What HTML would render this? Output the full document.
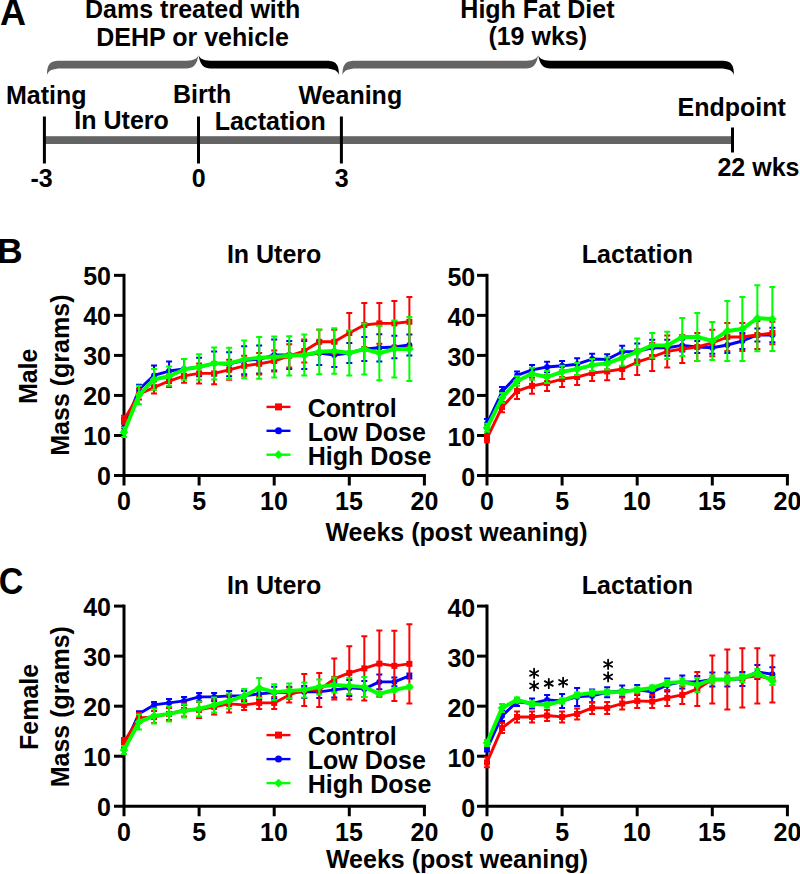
<!DOCTYPE html>
<html><head><meta charset="utf-8"><title>Figure</title>
<style>
html,body{margin:0;padding:0;background:#fff;}
body{width:800px;height:874px;overflow:hidden;}
svg{display:block;font-family:"Liberation Sans", sans-serif;}
</style></head>
<body>
<svg width="800" height="874" viewBox="0 0 800 874">
<rect width="800" height="874" fill="#fff"/>
<text x="0.1" y="24.75" font-size="36" text-anchor="start" font-weight="bold">A</text>
<text x="85.05" y="17.60" font-size="25" text-anchor="start" font-weight="bold">Dams treated with</text>
<text x="96.30" y="45.75" font-size="25" text-anchor="start" font-weight="bold">DEHP or vehicle</text>
<text x="460.35" y="17.60" font-size="25" text-anchor="start" font-weight="bold">High Fat Diet</text>
<text x="488.39" y="45.40" font-size="25" text-anchor="start" font-weight="bold">(19 wks)</text>
<path d="M47 75.2 C47 62.8 51 60.8 61 60.8 H186.5 C194.5 60.8 198.5 57.8 198.5 53.8 C197.5 65.5 192.5 68.5 186.5 68.5 H61 C53 68.5 48 70.5 47 75.2Z" fill="#646464"/>
<path d="M339 75.2 C339 62.8 335 60.8 325 60.8 H210.5 C202.5 60.8 198.5 57.8 198.5 53.8 C199.5 65.5 204.5 68.5 210.5 68.5 H325 C333 68.5 338 70.5 339 75.2Z" fill="#000"/>
<path d="M342.5 75.2 C342.5 62.8 346.5 60.8 356.5 60.8 H526.2 C534.2 60.8 538.2 57.8 538.2 53.8 C537.2 65.5 532.2 68.5 526.2 68.5 H356.5 C348.5 68.5 343.5 70.5 342.5 75.2Z" fill="#646464"/>
<path d="M734 75.2 C734 62.8 730 60.8 720 60.8 H550.2 C542.2 60.8 538.2 57.8 538.2 53.8 C539.2 65.5 544.2 68.5 550.2 68.5 H720 C728 68.5 733 70.5 734 75.2Z" fill="#000"/>
<text x="5.97" y="103.50" font-size="25" text-anchor="start" font-weight="bold">Mating</text>
<text x="172.95" y="103.40" font-size="25" text-anchor="start" font-weight="bold">Birth</text>
<text x="298.44" y="103.50" font-size="25" text-anchor="start" font-weight="bold">Weaning</text>
<text x="74.36" y="129.40" font-size="25" text-anchor="start" font-weight="bold">In Utero</text>
<text x="214.64" y="129.50" font-size="25" text-anchor="start" font-weight="bold">Lactation</text>
<text x="677.46" y="116.40" font-size="25" text-anchor="start" font-weight="bold">Endpoint</text>
<rect x="44" y="136.2" width="689" height="7.8" fill="#646464"/>
<g stroke="#000" stroke-width="3">
<path d="M44.4 116.5V163.5"/>
<path d="M198.5 116.5V163.5"/>
<path d="M341.4 116.5V163.5"/>
<path d="M732.5 127.5V152.5"/>
</g>
<text x="30.44" y="186.60" font-size="25" text-anchor="start" font-weight="bold">-3</text>
<text x="191.86" y="186.70" font-size="25" text-anchor="start" font-weight="bold">0</text>
<text x="334.82" y="186.70" font-size="25" text-anchor="start" font-weight="bold">3</text>
<text x="717.46" y="176.10" font-size="25" text-anchor="start" font-weight="bold">22 wks</text>
<text x="-3.1" y="263.25" font-size="35.5" text-anchor="start" font-weight="bold">B</text>
<g stroke="#000" stroke-width="3" fill="none" stroke-linecap="butt">
<path d="M124 273.85V485.5"/>
<path d="M114 475.5H425.90"/>
<path d="M114 435.47H124"/>
<path d="M114 395.44H124"/>
<path d="M114 355.41H124"/>
<path d="M114 315.38H124"/>
<path d="M114 275.35H124"/>
<path d="M199.10 475.5V485.5"/>
<path d="M274.20 475.5V485.5"/>
<path d="M349.30 475.5V485.5"/>
<path d="M424.40 475.5V485.5"/>
</g>
<text x="111.00" y="485.40" font-size="25" text-anchor="end" font-weight="bold">0</text>
<text x="111.00" y="445.37" font-size="25" text-anchor="end" font-weight="bold">10</text>
<text x="111.00" y="405.34" font-size="25" text-anchor="end" font-weight="bold">20</text>
<text x="111.00" y="365.31" font-size="25" text-anchor="end" font-weight="bold">30</text>
<text x="111.00" y="325.28" font-size="25" text-anchor="end" font-weight="bold">40</text>
<text x="111.00" y="285.25" font-size="25" text-anchor="end" font-weight="bold">50</text>
<text x="117.06" y="509.75" font-size="25" text-anchor="start" font-weight="bold">0</text>
<text x="192.13" y="509.75" font-size="25" text-anchor="start" font-weight="bold">5</text>
<text x="260.04" y="509.75" font-size="25" text-anchor="start" font-weight="bold">10</text>
<text x="334.99" y="509.75" font-size="25" text-anchor="start" font-weight="bold">15</text>
<text x="410.59" y="509.75" font-size="25" text-anchor="start" font-weight="bold">20</text>
<text x="226.91" y="262.80" font-size="25" text-anchor="start" font-weight="bold">In Utero</text>
<path d="M124.00 423.46V431.47M121.00 423.46H127.00M121.00 431.47H127.00M139.02 384.63V394.24M136.02 384.63H142.02M136.02 394.24H142.02M154.04 365.42V385.43M151.04 365.42H157.04M151.04 385.43H157.04M169.06 361.41V380.63M166.06 361.41H172.06M166.06 380.63H172.06M184.08 359.01V379.03M181.08 359.01H187.08M181.08 379.03H187.08M199.10 357.81V376.23M196.10 357.81H202.10M196.10 376.23H202.10M214.12 351.41V375.43M211.12 351.41H217.12M211.12 375.43H217.12M229.14 352.21V376.23M226.14 352.21H232.14M226.14 376.23H232.14M244.16 346.20V374.22M241.16 346.20H247.16M241.16 374.22H247.16M259.18 345.40V373.42M256.18 345.40H262.18M256.18 373.42H262.18M274.20 339.40V370.62M271.20 339.40H277.20M271.20 370.62H277.20M289.22 341.00V369.02M286.22 341.00H292.22M286.22 369.02H292.22M304.24 341.00V369.02M301.24 341.00H307.24M301.24 369.02H307.24M319.26 341.00V365.02M316.26 341.00H322.26M316.26 365.02H322.26M334.28 343.00V367.02M331.28 343.00H337.28M331.28 367.02H337.28M349.30 343.00V363.02M346.30 343.00H352.30M346.30 363.02H352.30M364.32 337.00V361.01M361.32 337.00H367.32M361.32 361.01H367.32M379.34 334.19V361.41M376.34 334.19H382.34M376.34 361.41H382.34M394.36 335.80V358.21M391.36 335.80H397.36M391.36 358.21H397.36M409.38 334.59V355.41M406.38 334.59H412.38M406.38 355.41H412.38" stroke="#0000ff" stroke-width="2.0" fill="none"/>
<polyline points="124.00,427.46 139.02,389.44 154.04,375.43 169.06,371.02 184.08,369.02 199.10,367.02 214.12,363.42 229.14,364.22 244.16,360.21 259.18,359.41 274.20,355.01 289.22,355.01 304.24,355.01 319.26,353.01 334.28,355.01 349.30,353.01 364.32,349.01 379.34,347.80 394.36,347.00 409.38,345.00" stroke="#0000ff" stroke-width="2.9" fill="none" stroke-linejoin="round"/>
<circle cx="124.00" cy="427.46" r="3.0" fill="#0000ff"/>
<circle cx="139.02" cy="389.44" r="3.0" fill="#0000ff"/>
<circle cx="154.04" cy="375.43" r="3.0" fill="#0000ff"/>
<circle cx="169.06" cy="371.02" r="3.0" fill="#0000ff"/>
<circle cx="184.08" cy="369.02" r="3.0" fill="#0000ff"/>
<circle cx="199.10" cy="367.02" r="3.0" fill="#0000ff"/>
<circle cx="214.12" cy="363.42" r="3.0" fill="#0000ff"/>
<circle cx="229.14" cy="364.22" r="3.0" fill="#0000ff"/>
<circle cx="244.16" cy="360.21" r="3.0" fill="#0000ff"/>
<circle cx="259.18" cy="359.41" r="3.0" fill="#0000ff"/>
<circle cx="274.20" cy="355.01" r="3.0" fill="#0000ff"/>
<circle cx="289.22" cy="355.01" r="3.0" fill="#0000ff"/>
<circle cx="304.24" cy="355.01" r="3.0" fill="#0000ff"/>
<circle cx="319.26" cy="353.01" r="3.0" fill="#0000ff"/>
<circle cx="334.28" cy="355.01" r="3.0" fill="#0000ff"/>
<circle cx="349.30" cy="353.01" r="3.0" fill="#0000ff"/>
<circle cx="364.32" cy="349.01" r="3.0" fill="#0000ff"/>
<circle cx="379.34" cy="347.80" r="3.0" fill="#0000ff"/>
<circle cx="394.36" cy="347.00" r="3.0" fill="#0000ff"/>
<circle cx="409.38" cy="345.00" r="3.0" fill="#0000ff"/>
<path d="M124.00 415.86V423.86M121.00 415.86H127.00M121.00 423.86H127.00M139.02 389.04V399.44M136.02 389.04H142.02M136.02 399.44H142.02M154.04 381.43V393.44M151.04 381.43H157.04M151.04 393.44H157.04M169.06 375.02V387.03M166.06 375.02H172.06M166.06 387.03H172.06M184.08 369.02V382.63M181.08 369.02H187.08M181.08 382.63H187.08M199.10 363.42V383.43M196.10 363.42H202.10M196.10 383.43H202.10M214.12 362.62V384.23M211.12 362.62H217.12M211.12 384.23H217.12M229.14 359.81V379.83M226.14 359.81H232.14M226.14 379.83H232.14M244.16 355.81V375.83M241.16 355.81H247.16M241.16 375.83H247.16M259.18 353.01V374.62M256.18 353.01H262.18M256.18 374.62H262.18M274.20 350.61V371.42M271.20 350.61H277.20M271.20 371.42H277.20M289.22 344.20V367.42M286.22 344.20H292.22M286.22 367.42H292.22M304.24 339.40V362.62M301.24 339.40H307.24M301.24 362.62H307.24M319.26 329.79V353.81M316.26 329.79H322.26M316.26 353.81H322.26M334.28 329.79V353.81M331.28 329.79H337.28M331.28 353.81H337.28M349.30 312.98V353.01M346.30 312.98H352.30M346.30 353.01H352.30M364.32 302.97V347.00M361.32 302.97H367.32M361.32 347.00H367.32M379.34 302.97V343.80M376.34 302.97H382.34M376.34 343.80H382.34M394.36 300.97V345.80M391.36 300.97H397.36M391.36 345.80H397.36M409.38 296.97V346.60M406.38 296.97H412.38M406.38 346.60H412.38" stroke="#ff0000" stroke-width="2.0" fill="none"/>
<polyline points="124.00,419.86 139.02,394.24 154.04,387.43 169.06,381.03 184.08,375.83 199.10,373.42 214.12,373.42 229.14,369.82 244.16,365.82 259.18,363.82 274.20,361.01 289.22,355.81 304.24,351.01 319.26,341.80 334.28,341.80 349.30,332.99 364.32,324.99 379.34,323.39 394.36,323.39 409.38,321.78" stroke="#ff0000" stroke-width="2.9" fill="none" stroke-linejoin="round"/>
<rect x="121.00" y="416.86" width="6.0" height="6.0" fill="#ff0000"/>
<rect x="136.02" y="391.24" width="6.0" height="6.0" fill="#ff0000"/>
<rect x="151.04" y="384.43" width="6.0" height="6.0" fill="#ff0000"/>
<rect x="166.06" y="378.03" width="6.0" height="6.0" fill="#ff0000"/>
<rect x="181.08" y="372.83" width="6.0" height="6.0" fill="#ff0000"/>
<rect x="196.10" y="370.42" width="6.0" height="6.0" fill="#ff0000"/>
<rect x="211.12" y="370.42" width="6.0" height="6.0" fill="#ff0000"/>
<rect x="226.14" y="366.82" width="6.0" height="6.0" fill="#ff0000"/>
<rect x="241.16" y="362.82" width="6.0" height="6.0" fill="#ff0000"/>
<rect x="256.18" y="360.82" width="6.0" height="6.0" fill="#ff0000"/>
<rect x="271.20" y="358.01" width="6.0" height="6.0" fill="#ff0000"/>
<rect x="286.22" y="352.81" width="6.0" height="6.0" fill="#ff0000"/>
<rect x="301.24" y="348.01" width="6.0" height="6.0" fill="#ff0000"/>
<rect x="316.26" y="338.80" width="6.0" height="6.0" fill="#ff0000"/>
<rect x="331.28" y="338.80" width="6.0" height="6.0" fill="#ff0000"/>
<rect x="346.30" y="329.99" width="6.0" height="6.0" fill="#ff0000"/>
<rect x="361.32" y="321.99" width="6.0" height="6.0" fill="#ff0000"/>
<rect x="376.34" y="320.39" width="6.0" height="6.0" fill="#ff0000"/>
<rect x="391.36" y="320.39" width="6.0" height="6.0" fill="#ff0000"/>
<rect x="406.38" y="318.78" width="6.0" height="6.0" fill="#ff0000"/>
<path d="M124.00 427.46V437.07M121.00 427.46H127.00M121.00 437.07H127.00M139.02 385.83V404.25M136.02 385.83H142.02M136.02 404.25H142.02M154.04 369.02V389.84M151.04 369.02H157.04M151.04 389.84H157.04M169.06 366.62V385.83M166.06 366.62H172.06M166.06 385.83H172.06M184.08 359.01V379.83M181.08 359.01H187.08M181.08 379.83H187.08M199.10 354.21V379.83M196.10 354.21H202.10M196.10 379.83H202.10M214.12 347.40V379.43M211.12 347.40H217.12M211.12 379.43H217.12M229.14 347.80V379.03M226.14 347.80H232.14M226.14 379.03H232.14M244.16 340.60V378.23M241.16 340.60H247.16M241.16 378.23H247.16M259.18 337.00V378.63M256.18 337.00H262.18M256.18 378.63H262.18M274.20 336.60V377.43M271.20 336.60H277.20M271.20 377.43H277.20M289.22 336.20V375.43M286.22 336.20H292.22M286.22 375.43H292.22M304.24 334.59V375.43M301.24 334.59H307.24M301.24 375.43H307.24M319.26 329.39V374.22M316.26 329.39H322.26M316.26 374.22H322.26M334.28 328.19V373.82M331.28 328.19H337.28M331.28 373.82H337.28M349.30 330.59V375.43M346.30 330.59H352.30M346.30 375.43H352.30M364.32 323.39V374.62M361.32 323.39H367.32M361.32 374.62H367.32M379.34 325.79V380.23M376.34 325.79H382.34M376.34 380.23H382.34M394.36 320.58V377.43M391.36 320.58H397.36M391.36 377.43H397.36M409.38 316.98V381.03M406.38 316.98H412.38M406.38 381.03H412.38" stroke="#00ff00" stroke-width="2.0" fill="none"/>
<polyline points="124.00,432.27 139.02,395.04 154.04,379.43 169.06,376.23 184.08,369.42 199.10,367.02 214.12,363.42 229.14,363.42 244.16,359.41 259.18,357.81 274.20,357.01 289.22,355.81 304.24,355.01 319.26,351.81 334.28,351.01 349.30,353.01 364.32,349.01 379.34,353.01 394.36,349.01 409.38,349.01" stroke="#00ff00" stroke-width="3.9" fill="none" stroke-linejoin="round"/>
<path d="M124.00 427.89L128.38 432.27L124.00 436.64L119.62 432.27Z" fill="#00ff00"/>
<path d="M139.02 390.66L143.40 395.04L139.02 399.41L134.65 395.04Z" fill="#00ff00"/>
<path d="M154.04 375.05L158.41 379.43L154.04 383.80L149.66 379.43Z" fill="#00ff00"/>
<path d="M169.06 371.85L173.44 376.23L169.06 380.60L164.69 376.23Z" fill="#00ff00"/>
<path d="M184.08 365.05L188.45 369.42L184.08 373.80L179.70 369.42Z" fill="#00ff00"/>
<path d="M199.10 362.64L203.47 367.02L199.10 371.39L194.72 367.02Z" fill="#00ff00"/>
<path d="M214.12 359.04L218.50 363.42L214.12 367.79L209.75 363.42Z" fill="#00ff00"/>
<path d="M229.14 359.04L233.51 363.42L229.14 367.79L224.76 363.42Z" fill="#00ff00"/>
<path d="M244.16 355.04L248.53 359.41L244.16 363.79L239.78 359.41Z" fill="#00ff00"/>
<path d="M259.18 353.44L263.56 357.81L259.18 362.19L254.81 357.81Z" fill="#00ff00"/>
<path d="M274.20 352.64L278.57 357.01L274.20 361.39L269.82 357.01Z" fill="#00ff00"/>
<path d="M289.22 351.44L293.60 355.81L289.22 360.19L284.85 355.81Z" fill="#00ff00"/>
<path d="M304.24 350.63L308.62 355.01L304.24 359.38L299.87 355.01Z" fill="#00ff00"/>
<path d="M319.26 347.43L323.63 351.81L319.26 356.18L314.88 351.81Z" fill="#00ff00"/>
<path d="M334.28 346.63L338.65 351.01L334.28 355.38L329.90 351.01Z" fill="#00ff00"/>
<path d="M349.30 348.63L353.67 353.01L349.30 357.38L344.92 353.01Z" fill="#00ff00"/>
<path d="M364.32 344.63L368.69 349.01L364.32 353.38L359.94 349.01Z" fill="#00ff00"/>
<path d="M379.34 348.63L383.72 353.01L379.34 357.38L374.97 353.01Z" fill="#00ff00"/>
<path d="M394.36 344.63L398.74 349.01L394.36 353.38L389.99 349.01Z" fill="#00ff00"/>
<path d="M409.38 344.63L413.75 349.01L409.38 353.38L405.00 349.01Z" fill="#00ff00"/>
<g stroke="#000" stroke-width="3" fill="none" stroke-linecap="butt">
<path d="M487 273.85V485.5"/>
<path d="M477 475.5H788.90"/>
<path d="M477 435.47H487"/>
<path d="M477 395.44H487"/>
<path d="M477 355.41H487"/>
<path d="M477 315.38H487"/>
<path d="M477 275.35H487"/>
<path d="M562.10 475.5V485.5"/>
<path d="M637.20 475.5V485.5"/>
<path d="M712.30 475.5V485.5"/>
<path d="M787.40 475.5V485.5"/>
</g>
<text x="475.25" y="486.40" font-size="25" text-anchor="end" font-weight="bold">0</text>
<text x="475.25" y="446.37" font-size="25" text-anchor="end" font-weight="bold">10</text>
<text x="475.25" y="406.34" font-size="25" text-anchor="end" font-weight="bold">20</text>
<text x="475.25" y="366.31" font-size="25" text-anchor="end" font-weight="bold">30</text>
<text x="475.25" y="326.28" font-size="25" text-anchor="end" font-weight="bold">40</text>
<text x="475.25" y="286.25" font-size="25" text-anchor="end" font-weight="bold">50</text>
<text x="480.06" y="509.75" font-size="25" text-anchor="start" font-weight="bold">0</text>
<text x="555.13" y="509.75" font-size="25" text-anchor="start" font-weight="bold">5</text>
<text x="623.04" y="509.75" font-size="25" text-anchor="start" font-weight="bold">10</text>
<text x="697.99" y="509.75" font-size="25" text-anchor="start" font-weight="bold">15</text>
<text x="773.59" y="509.75" font-size="25" text-anchor="start" font-weight="bold">20</text>
<text x="581.84" y="262.70" font-size="25" text-anchor="start" font-weight="bold">Lactation</text>
<path d="M487.00 419.06V428.66M484.00 419.06H490.00M484.00 428.66H490.00M502.02 387.03V396.64M499.02 387.03H505.02M499.02 396.64H505.02M517.04 371.42V379.43M514.04 371.42H520.04M514.04 379.43H520.04M532.06 365.02V374.62M529.06 365.02H535.06M529.06 374.62H535.06M547.08 361.81V372.22M544.08 361.81H550.08M544.08 372.22H550.08M562.10 361.01V370.62M559.10 361.01H565.10M559.10 370.62H565.10M577.12 358.21V370.22M574.12 358.21H580.12M574.12 370.22H580.12M592.14 353.81V364.22M589.14 353.81H595.14M589.14 364.22H595.14M607.16 354.21V364.62M604.16 354.21H610.16M604.16 364.62H610.16M622.18 345.80V357.81M619.18 345.80H625.18M619.18 357.81H625.18M637.20 343.40V359.41M634.20 343.40H640.20M634.20 359.41H640.20M652.22 339.80V355.81M649.22 339.80H655.22M649.22 355.81H655.22M667.24 339.80V355.81M664.24 339.80H670.24M664.24 355.81H670.24M682.26 339.40V351.41M679.26 339.40H685.26M679.26 351.41H685.26M697.28 341.00V353.01M694.28 341.00H700.28M694.28 353.01H700.28M712.30 341.80V353.81M709.30 341.80H715.30M709.30 353.81H715.30M727.32 337.00V353.01M724.32 337.00H730.32M724.32 353.01H730.32M742.34 332.99V349.01M739.34 332.99H745.34M739.34 349.01H745.34M757.36 328.59V341.40M754.36 328.59H760.36M754.36 341.40H760.36M772.38 327.79V342.20M769.38 327.79H775.38M769.38 342.20H775.38" stroke="#0000ff" stroke-width="2.0" fill="none"/>
<polyline points="487.00,423.86 502.02,391.84 517.04,375.43 532.06,369.82 547.08,367.02 562.10,365.82 577.12,364.22 592.14,359.01 607.16,359.41 622.18,351.81 637.20,351.41 652.22,347.80 667.24,347.80 682.26,345.40 697.28,347.00 712.30,347.80 727.32,345.00 742.34,341.00 757.36,334.99 772.38,334.99" stroke="#0000ff" stroke-width="2.9" fill="none" stroke-linejoin="round"/>
<circle cx="487.00" cy="423.86" r="3.0" fill="#0000ff"/>
<circle cx="502.02" cy="391.84" r="3.0" fill="#0000ff"/>
<circle cx="517.04" cy="375.43" r="3.0" fill="#0000ff"/>
<circle cx="532.06" cy="369.82" r="3.0" fill="#0000ff"/>
<circle cx="547.08" cy="367.02" r="3.0" fill="#0000ff"/>
<circle cx="562.10" cy="365.82" r="3.0" fill="#0000ff"/>
<circle cx="577.12" cy="364.22" r="3.0" fill="#0000ff"/>
<circle cx="592.14" cy="359.01" r="3.0" fill="#0000ff"/>
<circle cx="607.16" cy="359.41" r="3.0" fill="#0000ff"/>
<circle cx="622.18" cy="351.81" r="3.0" fill="#0000ff"/>
<circle cx="637.20" cy="351.41" r="3.0" fill="#0000ff"/>
<circle cx="652.22" cy="347.80" r="3.0" fill="#0000ff"/>
<circle cx="667.24" cy="347.80" r="3.0" fill="#0000ff"/>
<circle cx="682.26" cy="345.40" r="3.0" fill="#0000ff"/>
<circle cx="697.28" cy="347.00" r="3.0" fill="#0000ff"/>
<circle cx="712.30" cy="347.80" r="3.0" fill="#0000ff"/>
<circle cx="727.32" cy="345.00" r="3.0" fill="#0000ff"/>
<circle cx="742.34" cy="341.00" r="3.0" fill="#0000ff"/>
<circle cx="757.36" cy="334.99" r="3.0" fill="#0000ff"/>
<circle cx="772.38" cy="334.99" r="3.0" fill="#0000ff"/>
<path d="M487.00 434.27V442.28M484.00 434.27H490.00M484.00 442.28H490.00M502.02 401.84V412.25M499.02 401.84H505.02M499.02 412.25H505.02M517.04 383.03V399.04M514.04 383.03H520.04M514.04 399.04H520.04M532.06 377.83V393.84M529.06 377.83H535.06M529.06 393.84H535.06M547.08 375.02V391.04M544.08 375.02H550.08M544.08 391.04H550.08M562.10 371.02V387.03M559.10 371.02H565.10M559.10 387.03H565.10M577.12 369.02V385.03M574.12 369.02H580.12M574.12 385.03H580.12M592.14 365.02V381.03M589.14 365.02H595.14M589.14 381.03H595.14M607.16 362.62V380.23M604.16 362.62H610.16M604.16 380.23H610.16M622.18 359.01V379.03M619.18 359.01H625.18M619.18 379.03H625.18M637.20 349.41V375.02M634.20 349.41H640.20M634.20 375.02H640.20M652.22 343.00V371.02M649.22 343.00H655.22M649.22 371.02H655.22M667.24 335.39V367.42M664.24 335.39H670.24M664.24 367.42H670.24M682.26 334.99V363.02M679.26 334.99H685.26M679.26 363.02H685.26M697.28 332.99V361.01M694.28 332.99H700.28M694.28 361.01H700.28M712.30 329.79V356.21M709.30 329.79H715.30M709.30 356.21H715.30M727.32 322.99V351.01M724.32 322.99H730.32M724.32 351.01H730.32M742.34 322.99V351.01M739.34 322.99H745.34M739.34 351.01H745.34M757.36 320.98V349.01M754.36 320.98H760.36M754.36 349.01H760.36M772.38 321.78V344.20M769.38 321.78H775.38M769.38 344.20H775.38" stroke="#ff0000" stroke-width="2.0" fill="none"/>
<polyline points="487.00,438.27 502.02,407.05 517.04,391.04 532.06,385.83 547.08,383.03 562.10,379.03 577.12,377.03 592.14,373.02 607.16,371.42 622.18,369.02 637.20,362.22 652.22,357.01 667.24,351.41 682.26,349.01 697.28,347.00 712.30,343.00 727.32,337.00 742.34,337.00 757.36,334.99 772.38,332.99" stroke="#ff0000" stroke-width="2.9" fill="none" stroke-linejoin="round"/>
<rect x="484.00" y="435.27" width="6.0" height="6.0" fill="#ff0000"/>
<rect x="499.02" y="404.05" width="6.0" height="6.0" fill="#ff0000"/>
<rect x="514.04" y="388.04" width="6.0" height="6.0" fill="#ff0000"/>
<rect x="529.06" y="382.83" width="6.0" height="6.0" fill="#ff0000"/>
<rect x="544.08" y="380.03" width="6.0" height="6.0" fill="#ff0000"/>
<rect x="559.10" y="376.03" width="6.0" height="6.0" fill="#ff0000"/>
<rect x="574.12" y="374.03" width="6.0" height="6.0" fill="#ff0000"/>
<rect x="589.14" y="370.02" width="6.0" height="6.0" fill="#ff0000"/>
<rect x="604.16" y="368.42" width="6.0" height="6.0" fill="#ff0000"/>
<rect x="619.18" y="366.02" width="6.0" height="6.0" fill="#ff0000"/>
<rect x="634.20" y="359.22" width="6.0" height="6.0" fill="#ff0000"/>
<rect x="649.22" y="354.01" width="6.0" height="6.0" fill="#ff0000"/>
<rect x="664.24" y="348.41" width="6.0" height="6.0" fill="#ff0000"/>
<rect x="679.26" y="346.01" width="6.0" height="6.0" fill="#ff0000"/>
<rect x="694.28" y="344.00" width="6.0" height="6.0" fill="#ff0000"/>
<rect x="709.30" y="340.00" width="6.0" height="6.0" fill="#ff0000"/>
<rect x="724.32" y="334.00" width="6.0" height="6.0" fill="#ff0000"/>
<rect x="739.34" y="334.00" width="6.0" height="6.0" fill="#ff0000"/>
<rect x="754.36" y="331.99" width="6.0" height="6.0" fill="#ff0000"/>
<rect x="769.38" y="329.99" width="6.0" height="6.0" fill="#ff0000"/>
<path d="M487.00 423.86V431.87M484.00 423.86H490.00M484.00 431.87H490.00M502.02 393.04V402.65M499.02 393.04H505.02M499.02 402.65H505.02M517.04 376.23V385.83M514.04 376.23H520.04M514.04 385.83H520.04M532.06 367.82V379.83M529.06 367.82H535.06M529.06 379.83H535.06M547.08 371.02V383.03M544.08 371.02H550.08M544.08 383.03H550.08M562.10 365.82V377.83M559.10 365.82H565.10M559.10 377.83H565.10M577.12 363.02V375.02M574.12 363.02H580.12M574.12 375.02H580.12M592.14 359.01V371.02M589.14 359.01H595.14M589.14 371.02H595.14M607.16 357.41V369.42M604.16 357.41H610.16M604.16 369.42H610.16M622.18 349.81V365.82M619.18 349.81H625.18M619.18 365.82H625.18M637.20 338.60V365.02M634.20 338.60H640.20M634.20 365.02H640.20M652.22 332.99V357.81M649.22 332.99H655.22M649.22 357.81H655.22M667.24 331.79V359.01M664.24 331.79H670.24M664.24 359.01H670.24M682.26 317.98V356.01M679.26 317.98H685.26M679.26 356.01H685.26M697.28 312.98V361.01M694.28 312.98H700.28M694.28 361.01H700.28M712.30 321.98V360.01M709.30 321.98H715.30M709.30 360.01H715.30M727.32 300.97V361.01M724.32 300.97H730.32M724.32 361.01H730.32M742.34 296.97V361.01M739.34 296.97H745.34M739.34 361.01H745.34M757.36 285.16V351.21M754.36 285.16H760.36M754.36 351.21H760.36M772.38 286.96V351.01M769.38 286.96H775.38M769.38 351.01H775.38" stroke="#00ff00" stroke-width="2.0" fill="none"/>
<polyline points="487.00,427.86 502.02,397.84 517.04,381.03 532.06,373.82 547.08,377.03 562.10,371.82 577.12,369.02 592.14,365.02 607.16,363.42 622.18,357.81 637.20,351.81 652.22,345.40 667.24,345.40 682.26,337.00 697.28,337.00 712.30,341.00 727.32,330.99 742.34,328.99 757.36,318.18 772.38,318.98" stroke="#00ff00" stroke-width="3.9" fill="none" stroke-linejoin="round"/>
<path d="M487.00 423.49L491.38 427.86L487.00 432.24L482.62 427.86Z" fill="#00ff00"/>
<path d="M502.02 393.47L506.39 397.84L502.02 402.22L497.64 397.84Z" fill="#00ff00"/>
<path d="M517.04 376.65L521.41 381.03L517.04 385.40L512.66 381.03Z" fill="#00ff00"/>
<path d="M532.06 369.45L536.43 373.82L532.06 378.20L527.68 373.82Z" fill="#00ff00"/>
<path d="M547.08 372.65L551.46 377.03L547.08 381.40L542.71 377.03Z" fill="#00ff00"/>
<path d="M562.10 367.45L566.48 371.82L562.10 376.20L557.73 371.82Z" fill="#00ff00"/>
<path d="M577.12 364.65L581.50 369.02L577.12 373.40L572.75 369.02Z" fill="#00ff00"/>
<path d="M592.14 360.64L596.51 365.02L592.14 369.39L587.76 365.02Z" fill="#00ff00"/>
<path d="M607.16 359.04L611.53 363.42L607.16 367.79L602.78 363.42Z" fill="#00ff00"/>
<path d="M622.18 353.44L626.56 357.81L622.18 362.19L617.81 357.81Z" fill="#00ff00"/>
<path d="M637.20 347.43L641.58 351.81L637.20 356.18L632.83 351.81Z" fill="#00ff00"/>
<path d="M652.22 341.03L656.60 345.40L652.22 349.78L647.85 345.40Z" fill="#00ff00"/>
<path d="M667.24 341.03L671.62 345.40L667.24 349.78L662.87 345.40Z" fill="#00ff00"/>
<path d="M682.26 332.62L686.63 337.00L682.26 341.37L677.88 337.00Z" fill="#00ff00"/>
<path d="M697.28 332.62L701.65 337.00L697.28 341.37L692.90 337.00Z" fill="#00ff00"/>
<path d="M712.30 336.62L716.67 341.00L712.30 345.37L707.92 341.00Z" fill="#00ff00"/>
<path d="M727.32 326.62L731.69 330.99L727.32 335.37L722.94 330.99Z" fill="#00ff00"/>
<path d="M742.34 324.62L746.72 328.99L742.34 333.37L737.97 328.99Z" fill="#00ff00"/>
<path d="M757.36 313.81L761.74 318.18L757.36 322.56L752.99 318.18Z" fill="#00ff00"/>
<path d="M772.38 314.61L776.75 318.98L772.38 323.36L768.00 318.98Z" fill="#00ff00"/>
<path d="M266.5 406.90H290.5" stroke="#ff0000" stroke-width="2.4"/>
<rect x="275.00" y="403.40" width="7" height="7" fill="#ff0000"/>
<text x="307.8" y="416.90" font-size="25" text-anchor="start" font-weight="bold">Control</text>
<path d="M266.5 430.80H290.5" stroke="#0000ff" stroke-width="2.4"/>
<circle cx="278.50" cy="430.80" r="3.5" fill="#0000ff"/>
<text x="307.8" y="440.80" font-size="25" text-anchor="start" font-weight="bold">Low Dose</text>
<path d="M266.5 454.70H290.5" stroke="#00ff00" stroke-width="2.4"/>
<path d="M278.50 450.32L282.88 454.70L278.50 459.07L274.12 454.70Z" fill="#00ff00"/>
<text x="307.8" y="464.70" font-size="25" text-anchor="start" font-weight="bold">High Dose</text>
<text x="325.46" y="541.25" font-size="25" text-anchor="start" font-weight="bold">Weeks (post weaning)</text>
<text transform="translate(37.30 404.12) rotate(-90)" font-size="25" font-weight="bold">Male</text>
<text transform="translate(68.60 455.71) rotate(-90)" font-size="25" font-weight="bold">Mass (grams)</text>
<text transform="translate(-1.2 594.1) scale(0.935 1)" font-size="36.5" font-weight="bold">C</text>
<g stroke="#000" stroke-width="3" fill="none" stroke-linecap="butt">
<path d="M124 604.59V816.25"/>
<path d="M114 806.25H425.90"/>
<path d="M114 756.21H124"/>
<path d="M114 706.17H124"/>
<path d="M114 656.13H124"/>
<path d="M114 606.09H124"/>
<path d="M199.10 806.25V816.25"/>
<path d="M274.20 806.25V816.25"/>
<path d="M349.30 806.25V816.25"/>
<path d="M424.40 806.25V816.25"/>
</g>
<text x="111.00" y="816.15" font-size="25" text-anchor="end" font-weight="bold">0</text>
<text x="111.00" y="766.11" font-size="25" text-anchor="end" font-weight="bold">10</text>
<text x="111.00" y="716.07" font-size="25" text-anchor="end" font-weight="bold">20</text>
<text x="111.00" y="666.03" font-size="25" text-anchor="end" font-weight="bold">30</text>
<text x="111.00" y="615.99" font-size="25" text-anchor="end" font-weight="bold">40</text>
<text x="117.06" y="840.50" font-size="25" text-anchor="start" font-weight="bold">0</text>
<text x="192.13" y="840.50" font-size="25" text-anchor="start" font-weight="bold">5</text>
<text x="260.04" y="840.50" font-size="25" text-anchor="start" font-weight="bold">10</text>
<text x="334.99" y="840.50" font-size="25" text-anchor="start" font-weight="bold">15</text>
<text x="410.59" y="840.50" font-size="25" text-anchor="start" font-weight="bold">20</text>
<text x="226.91" y="593.80" font-size="25" text-anchor="start" font-weight="bold">In Utero</text>
<path d="M124.00 743.70V749.70M121.00 743.70H127.00M121.00 749.70H127.00M139.02 711.17V716.18M136.02 711.17H142.02M136.02 716.18H142.02M154.04 701.92V707.92M151.04 701.92H157.04M151.04 707.92H157.04M169.06 698.91V706.92M166.06 698.91H172.06M166.06 706.92H172.06M184.08 696.91V704.92M181.08 696.91H187.08M181.08 704.92H187.08M199.10 692.91V700.92M196.10 692.91H202.10M196.10 700.92H202.10M214.12 692.91V700.92M211.12 692.91H217.12M211.12 700.92H217.12M229.14 690.91V700.92M226.14 690.91H232.14M226.14 700.92H232.14M244.16 690.91V700.92M241.16 690.91H247.16M241.16 700.92H247.16M259.18 688.91V698.91M256.18 688.91H262.18M256.18 698.91H262.18M274.20 686.65V698.66M271.20 686.65H277.20M271.20 698.66H277.20M289.22 686.65V698.66M286.22 686.65H292.22M286.22 698.66H292.22M304.24 685.90V697.91M301.24 685.90H307.24M301.24 697.91H307.24M319.26 685.90V697.91M316.26 685.90H322.26M316.26 697.91H322.26M334.28 682.40V697.41M331.28 682.40H337.28M331.28 697.41H337.28M349.30 679.90V695.91M346.30 679.90H352.30M346.30 695.91H352.30M364.32 680.90V696.91M361.32 680.90H367.32M361.32 696.91H367.32M379.34 674.59V689.21M376.34 674.59H382.34M376.34 689.21H382.34M394.36 677.50V686.30M391.36 677.50H397.36M391.36 686.30H397.36M409.38 673.39V678.40M406.38 673.39H412.38M406.38 678.40H412.38" stroke="#0000ff" stroke-width="2.0" fill="none"/>
<polyline points="124.00,746.70 139.02,713.68 154.04,704.92 169.06,702.92 184.08,700.92 199.10,696.91 214.12,696.91 229.14,695.91 244.16,695.91 259.18,693.91 274.20,692.66 289.22,692.66 304.24,691.91 319.26,691.91 334.28,689.91 349.30,687.91 364.32,688.91 379.34,681.90 394.36,681.90 409.38,675.90" stroke="#0000ff" stroke-width="2.9" fill="none" stroke-linejoin="round"/>
<circle cx="124.00" cy="746.70" r="3.0" fill="#0000ff"/>
<circle cx="139.02" cy="713.68" r="3.0" fill="#0000ff"/>
<circle cx="154.04" cy="704.92" r="3.0" fill="#0000ff"/>
<circle cx="169.06" cy="702.92" r="3.0" fill="#0000ff"/>
<circle cx="184.08" cy="700.92" r="3.0" fill="#0000ff"/>
<circle cx="199.10" cy="696.91" r="3.0" fill="#0000ff"/>
<circle cx="214.12" cy="696.91" r="3.0" fill="#0000ff"/>
<circle cx="229.14" cy="695.91" r="3.0" fill="#0000ff"/>
<circle cx="244.16" cy="695.91" r="3.0" fill="#0000ff"/>
<circle cx="259.18" cy="693.91" r="3.0" fill="#0000ff"/>
<circle cx="274.20" cy="692.66" r="3.0" fill="#0000ff"/>
<circle cx="289.22" cy="692.66" r="3.0" fill="#0000ff"/>
<circle cx="304.24" cy="691.91" r="3.0" fill="#0000ff"/>
<circle cx="319.26" cy="691.91" r="3.0" fill="#0000ff"/>
<circle cx="334.28" cy="689.91" r="3.0" fill="#0000ff"/>
<circle cx="349.30" cy="687.91" r="3.0" fill="#0000ff"/>
<circle cx="364.32" cy="688.91" r="3.0" fill="#0000ff"/>
<circle cx="379.34" cy="681.90" r="3.0" fill="#0000ff"/>
<circle cx="394.36" cy="681.90" r="3.0" fill="#0000ff"/>
<circle cx="409.38" cy="675.90" r="3.0" fill="#0000ff"/>
<path d="M124.00 737.95V745.95M121.00 737.95H127.00M121.00 745.95H127.00M139.02 712.93V722.93M136.02 712.93H142.02M136.02 722.93H142.02M154.04 710.92V722.93M151.04 710.92H157.04M151.04 722.93H157.04M169.06 707.92V719.93M166.06 707.92H172.06M166.06 719.93H172.06M184.08 703.42V716.43M181.08 703.42H187.08M181.08 716.43H187.08M199.10 701.92V717.93M196.10 701.92H202.10M196.10 717.93H202.10M214.12 699.41V714.43M211.12 699.41H217.12M211.12 714.43H217.12M229.14 695.41V712.43M226.14 695.41H232.14M226.14 712.43H232.14M244.16 699.91V709.92M241.16 699.91H247.16M241.16 709.92H247.16M259.18 696.91V708.92M256.18 696.91H262.18M256.18 708.92H262.18M274.20 696.91V708.92M271.20 696.91H277.20M271.20 708.92H277.20M289.22 687.41V702.42M286.22 687.41H292.22M286.22 702.42H292.22M304.24 673.89V705.92M301.24 673.89H307.24M301.24 705.92H307.24M319.26 672.89V706.92M316.26 672.89H322.26M316.26 706.92H322.26M334.28 658.38V699.41M331.28 658.38H337.28M331.28 699.41H337.28M349.30 646.37V699.41M346.30 646.37H352.30M346.30 699.41H352.30M364.32 636.36V700.42M361.32 636.36H367.32M361.32 700.42H367.32M379.34 630.61V696.66M376.34 630.61H382.34M376.34 696.66H382.34M394.36 630.86V700.92M391.36 630.86H397.36M391.36 700.92H397.36M409.38 624.35V703.42M406.38 624.35H412.38M406.38 703.42H412.38" stroke="#ff0000" stroke-width="2.0" fill="none"/>
<polyline points="124.00,741.95 139.02,717.93 154.04,716.93 169.06,713.93 184.08,709.92 199.10,709.92 214.12,706.92 229.14,703.92 244.16,704.92 259.18,702.92 274.20,702.92 289.22,694.91 304.24,689.91 319.26,689.91 334.28,678.90 349.30,672.89 364.32,668.39 379.34,663.64 394.36,665.89 409.38,663.89" stroke="#ff0000" stroke-width="2.9" fill="none" stroke-linejoin="round"/>
<rect x="121.00" y="738.95" width="6.0" height="6.0" fill="#ff0000"/>
<rect x="136.02" y="714.93" width="6.0" height="6.0" fill="#ff0000"/>
<rect x="151.04" y="713.93" width="6.0" height="6.0" fill="#ff0000"/>
<rect x="166.06" y="710.93" width="6.0" height="6.0" fill="#ff0000"/>
<rect x="181.08" y="706.92" width="6.0" height="6.0" fill="#ff0000"/>
<rect x="196.10" y="706.92" width="6.0" height="6.0" fill="#ff0000"/>
<rect x="211.12" y="703.92" width="6.0" height="6.0" fill="#ff0000"/>
<rect x="226.14" y="700.92" width="6.0" height="6.0" fill="#ff0000"/>
<rect x="241.16" y="701.92" width="6.0" height="6.0" fill="#ff0000"/>
<rect x="256.18" y="699.92" width="6.0" height="6.0" fill="#ff0000"/>
<rect x="271.20" y="699.92" width="6.0" height="6.0" fill="#ff0000"/>
<rect x="286.22" y="691.91" width="6.0" height="6.0" fill="#ff0000"/>
<rect x="301.24" y="686.91" width="6.0" height="6.0" fill="#ff0000"/>
<rect x="316.26" y="686.91" width="6.0" height="6.0" fill="#ff0000"/>
<rect x="331.28" y="675.90" width="6.0" height="6.0" fill="#ff0000"/>
<rect x="346.30" y="669.89" width="6.0" height="6.0" fill="#ff0000"/>
<rect x="361.32" y="665.39" width="6.0" height="6.0" fill="#ff0000"/>
<rect x="376.34" y="660.64" width="6.0" height="6.0" fill="#ff0000"/>
<rect x="391.36" y="662.89" width="6.0" height="6.0" fill="#ff0000"/>
<rect x="406.38" y="660.89" width="6.0" height="6.0" fill="#ff0000"/>
<path d="M124.00 745.95V753.96M121.00 745.95H127.00M121.00 753.96H127.00M139.02 714.43V729.44M136.02 714.43H142.02M136.02 729.44H142.02M154.04 708.42V723.43M151.04 708.42H157.04M151.04 723.43H157.04M169.06 706.42V721.43M166.06 706.42H172.06M166.06 721.43H172.06M184.08 704.42V717.43M181.08 704.42H187.08M181.08 717.43H187.08M199.10 701.42V716.43M196.10 701.42H202.10M196.10 716.43H202.10M214.12 697.41V712.42M211.12 697.41H217.12M211.12 712.42H217.12M229.14 693.41V708.42M226.14 693.41H232.14M226.14 708.42H232.14M244.16 688.91V702.92M241.16 688.91H247.16M241.16 702.92H247.16M259.18 677.90V697.91M256.18 677.90H262.18M256.18 697.91H262.18M274.20 684.15V700.17M271.20 684.15H277.20M271.20 700.17H277.20M289.22 683.40V698.41M286.22 683.40H292.22M286.22 698.41H292.22M304.24 682.40V697.41M301.24 682.40H307.24M301.24 697.41H307.24M319.26 679.40V694.41M316.26 679.40H322.26M316.26 694.41H322.26M334.28 677.40V692.41M331.28 677.40H337.28M331.28 692.41H337.28M349.30 677.90V693.91M346.30 677.90H352.30M346.30 693.91H352.30M364.32 676.90V696.91M361.32 676.90H367.32M361.32 696.91H367.32M379.34 692.41V695.41M376.34 692.41H382.34M376.34 695.41H382.34M394.36 688.41V691.41M391.36 688.41H397.36M391.36 691.41H397.36M409.38 685.40V688.41M406.38 685.40H412.38M406.38 688.41H412.38" stroke="#00ff00" stroke-width="2.0" fill="none"/>
<polyline points="124.00,749.96 139.02,721.93 154.04,715.93 169.06,713.93 184.08,710.92 199.10,708.92 214.12,704.92 229.14,700.92 244.16,695.91 259.18,687.91 274.20,692.16 289.22,690.91 304.24,689.91 319.26,686.90 334.28,684.90 349.30,685.90 364.32,686.90 379.34,693.91 394.36,689.91 409.38,686.90" stroke="#00ff00" stroke-width="3.9" fill="none" stroke-linejoin="round"/>
<path d="M124.00 745.58L128.38 749.96L124.00 754.33L119.62 749.96Z" fill="#00ff00"/>
<path d="M139.02 717.56L143.40 721.93L139.02 726.31L134.65 721.93Z" fill="#00ff00"/>
<path d="M154.04 711.55L158.41 715.93L154.04 720.30L149.66 715.93Z" fill="#00ff00"/>
<path d="M169.06 709.55L173.44 713.93L169.06 718.30L164.69 713.93Z" fill="#00ff00"/>
<path d="M184.08 706.55L188.45 710.92L184.08 715.30L179.70 710.92Z" fill="#00ff00"/>
<path d="M199.10 704.55L203.47 708.92L199.10 713.30L194.72 708.92Z" fill="#00ff00"/>
<path d="M214.12 700.54L218.50 704.92L214.12 709.29L209.75 704.92Z" fill="#00ff00"/>
<path d="M229.14 696.54L233.51 700.92L229.14 705.29L224.76 700.92Z" fill="#00ff00"/>
<path d="M244.16 691.54L248.53 695.91L244.16 700.29L239.78 695.91Z" fill="#00ff00"/>
<path d="M259.18 683.53L263.56 687.91L259.18 692.28L254.81 687.91Z" fill="#00ff00"/>
<path d="M274.20 687.78L278.57 692.16L274.20 696.53L269.82 692.16Z" fill="#00ff00"/>
<path d="M289.22 686.53L293.60 690.91L289.22 695.28L284.85 690.91Z" fill="#00ff00"/>
<path d="M304.24 685.53L308.62 689.91L304.24 694.28L299.87 689.91Z" fill="#00ff00"/>
<path d="M319.26 682.53L323.63 686.90L319.26 691.28L314.88 686.90Z" fill="#00ff00"/>
<path d="M334.28 680.53L338.65 684.90L334.28 689.28L329.90 684.90Z" fill="#00ff00"/>
<path d="M349.30 681.53L353.67 685.90L349.30 690.28L344.92 685.90Z" fill="#00ff00"/>
<path d="M364.32 682.53L368.69 686.90L364.32 691.28L359.94 686.90Z" fill="#00ff00"/>
<path d="M379.34 689.54L383.72 693.91L379.34 698.29L374.97 693.91Z" fill="#00ff00"/>
<path d="M394.36 685.53L398.74 689.91L394.36 694.28L389.99 689.91Z" fill="#00ff00"/>
<path d="M409.38 682.53L413.75 686.90L409.38 691.28L405.00 686.90Z" fill="#00ff00"/>
<g stroke="#000" stroke-width="3" fill="none" stroke-linecap="butt">
<path d="M487 604.59V816.25"/>
<path d="M477 806.25H788.90"/>
<path d="M477 756.21H487"/>
<path d="M477 706.17H487"/>
<path d="M477 656.13H487"/>
<path d="M477 606.09H487"/>
<path d="M562.10 806.25V816.25"/>
<path d="M637.20 806.25V816.25"/>
<path d="M712.30 806.25V816.25"/>
<path d="M787.40 806.25V816.25"/>
</g>
<text x="475.25" y="817.15" font-size="25" text-anchor="end" font-weight="bold">0</text>
<text x="475.25" y="767.11" font-size="25" text-anchor="end" font-weight="bold">10</text>
<text x="475.25" y="717.07" font-size="25" text-anchor="end" font-weight="bold">20</text>
<text x="475.25" y="667.03" font-size="25" text-anchor="end" font-weight="bold">30</text>
<text x="475.25" y="616.99" font-size="25" text-anchor="end" font-weight="bold">40</text>
<text x="480.06" y="840.50" font-size="25" text-anchor="start" font-weight="bold">0</text>
<text x="555.13" y="840.50" font-size="25" text-anchor="start" font-weight="bold">5</text>
<text x="623.04" y="840.50" font-size="25" text-anchor="start" font-weight="bold">10</text>
<text x="697.99" y="840.50" font-size="25" text-anchor="start" font-weight="bold">15</text>
<text x="773.59" y="840.50" font-size="25" text-anchor="start" font-weight="bold">20</text>
<text x="581.84" y="593.80" font-size="25" text-anchor="start" font-weight="bold">Lactation</text>
<path d="M487.00 746.45V751.46M484.00 746.45H490.00M484.00 751.46H490.00M502.02 710.92V720.93M499.02 710.92H505.02M499.02 720.93H505.02M517.04 697.91V705.92M514.04 697.91H520.04M514.04 705.92H520.04M532.06 698.51V708.52M529.06 698.51H535.06M529.06 708.52H535.06M547.08 694.91V704.92M544.08 694.91H550.08M544.08 704.92H550.08M562.10 693.91V707.92M559.10 693.91H565.10M559.10 707.92H565.10M577.12 687.91V705.92M574.12 687.91H580.12M574.12 705.92H580.12M592.14 689.41V702.42M589.14 689.41H595.14M589.14 702.42H595.14M607.16 687.30V697.31M604.16 687.30H610.16M604.16 697.31H610.16M622.18 685.40V696.41M619.18 685.40H625.18M619.18 696.41H625.18M637.20 684.90V694.91M634.20 684.90H640.20M634.20 694.91H640.20M652.22 686.90V696.91M649.22 686.90H655.22M649.22 696.91H655.22M667.24 678.40V691.41M664.24 678.40H670.24M664.24 691.41H670.24M682.26 675.40V688.41M679.26 675.40H685.26M679.26 688.41H685.26M697.28 675.90V687.91M694.28 675.90H700.28M694.28 687.91H700.28M712.30 672.49V686.50M709.30 672.49H715.30M709.30 686.50H715.30M727.32 672.49V686.50M724.32 672.49H730.32M724.32 686.50H730.32M742.34 671.89V685.90M739.34 671.89H745.34M739.34 685.90H745.34M757.36 664.89V678.90M754.36 664.89H760.36M754.36 678.90H760.36M772.38 667.29V681.30M769.38 667.29H775.38M769.38 681.30H775.38" stroke="#0000ff" stroke-width="2.0" fill="none"/>
<polyline points="487.00,748.95 502.02,715.93 517.04,701.92 532.06,703.52 547.08,699.91 562.10,700.92 577.12,696.91 592.14,695.91 607.16,692.31 622.18,690.91 637.20,689.91 652.22,691.91 667.24,684.90 682.26,681.90 697.28,681.90 712.30,679.50 727.32,679.50 742.34,678.90 757.36,671.89 772.38,674.29" stroke="#0000ff" stroke-width="2.9" fill="none" stroke-linejoin="round"/>
<circle cx="487.00" cy="748.95" r="3.0" fill="#0000ff"/>
<circle cx="502.02" cy="715.93" r="3.0" fill="#0000ff"/>
<circle cx="517.04" cy="701.92" r="3.0" fill="#0000ff"/>
<circle cx="532.06" cy="703.52" r="3.0" fill="#0000ff"/>
<circle cx="547.08" cy="699.91" r="3.0" fill="#0000ff"/>
<circle cx="562.10" cy="700.92" r="3.0" fill="#0000ff"/>
<circle cx="577.12" cy="696.91" r="3.0" fill="#0000ff"/>
<circle cx="592.14" cy="695.91" r="3.0" fill="#0000ff"/>
<circle cx="607.16" cy="692.31" r="3.0" fill="#0000ff"/>
<circle cx="622.18" cy="690.91" r="3.0" fill="#0000ff"/>
<circle cx="637.20" cy="689.91" r="3.0" fill="#0000ff"/>
<circle cx="652.22" cy="691.91" r="3.0" fill="#0000ff"/>
<circle cx="667.24" cy="684.90" r="3.0" fill="#0000ff"/>
<circle cx="682.26" cy="681.90" r="3.0" fill="#0000ff"/>
<circle cx="697.28" cy="681.90" r="3.0" fill="#0000ff"/>
<circle cx="712.30" cy="679.50" r="3.0" fill="#0000ff"/>
<circle cx="727.32" cy="679.50" r="3.0" fill="#0000ff"/>
<circle cx="742.34" cy="678.90" r="3.0" fill="#0000ff"/>
<circle cx="757.36" cy="671.89" r="3.0" fill="#0000ff"/>
<circle cx="772.38" cy="674.29" r="3.0" fill="#0000ff"/>
<path d="M487.00 757.36V767.37M484.00 757.36H490.00M484.00 767.37H490.00M502.02 722.93V732.94M499.02 722.93H505.02M499.02 732.94H505.02M517.04 711.42V722.43M514.04 711.42H520.04M514.04 722.43H520.04M532.06 711.42V722.43M529.06 711.42H535.06M529.06 722.43H535.06M547.08 710.02V721.03M544.08 710.02H550.08M544.08 721.03H550.08M562.10 711.42V722.43M559.10 711.42H565.10M559.10 722.43H565.10M577.12 708.42V719.43M574.12 708.42H580.12M574.12 719.43H580.12M592.14 701.92V713.93M589.14 701.92H595.14M589.14 713.93H595.14M607.16 701.92V713.93M604.16 701.92H610.16M604.16 713.93H610.16M622.18 697.51V709.52M619.18 697.51H625.18M619.18 709.52H625.18M637.20 693.91V707.92M634.20 693.91H640.20M634.20 707.92H640.20M652.22 695.01V708.02M649.22 695.01H655.22M649.22 708.02H655.22M667.24 689.91V705.92M664.24 689.91H670.24M664.24 705.92H670.24M682.26 685.90V703.92M679.26 685.90H685.26M679.26 703.92H685.26M697.28 671.89V705.92M694.28 671.89H700.28M694.28 705.92H700.28M712.30 655.48V703.52M709.30 655.48H715.30M709.30 703.52H715.30M727.32 649.47V709.52M724.32 649.47H730.32M724.32 709.52H730.32M742.34 648.37V707.42M739.34 648.37H745.34M739.34 707.42H745.34M757.36 648.37V703.42M754.36 648.37H760.36M754.36 703.42H760.36M772.38 655.38V702.42M769.38 655.38H775.38M769.38 702.42H775.38" stroke="#ff0000" stroke-width="2.0" fill="none"/>
<polyline points="487.00,762.36 502.02,727.94 517.04,716.93 532.06,716.93 547.08,715.53 562.10,716.93 577.12,713.93 592.14,707.92 607.16,707.92 622.18,703.52 637.20,700.92 652.22,701.52 667.24,697.91 682.26,694.91 697.28,688.91 712.30,679.50 727.32,679.50 742.34,677.90 757.36,675.90 772.38,678.90" stroke="#ff0000" stroke-width="2.9" fill="none" stroke-linejoin="round"/>
<rect x="484.00" y="759.36" width="6.0" height="6.0" fill="#ff0000"/>
<rect x="499.02" y="724.94" width="6.0" height="6.0" fill="#ff0000"/>
<rect x="514.04" y="713.93" width="6.0" height="6.0" fill="#ff0000"/>
<rect x="529.06" y="713.93" width="6.0" height="6.0" fill="#ff0000"/>
<rect x="544.08" y="712.53" width="6.0" height="6.0" fill="#ff0000"/>
<rect x="559.10" y="713.93" width="6.0" height="6.0" fill="#ff0000"/>
<rect x="574.12" y="710.93" width="6.0" height="6.0" fill="#ff0000"/>
<rect x="589.14" y="704.92" width="6.0" height="6.0" fill="#ff0000"/>
<rect x="604.16" y="704.92" width="6.0" height="6.0" fill="#ff0000"/>
<rect x="619.18" y="700.52" width="6.0" height="6.0" fill="#ff0000"/>
<rect x="634.20" y="697.92" width="6.0" height="6.0" fill="#ff0000"/>
<rect x="649.22" y="698.52" width="6.0" height="6.0" fill="#ff0000"/>
<rect x="664.24" y="694.91" width="6.0" height="6.0" fill="#ff0000"/>
<rect x="679.26" y="691.91" width="6.0" height="6.0" fill="#ff0000"/>
<rect x="694.28" y="685.91" width="6.0" height="6.0" fill="#ff0000"/>
<rect x="709.30" y="676.50" width="6.0" height="6.0" fill="#ff0000"/>
<rect x="724.32" y="676.50" width="6.0" height="6.0" fill="#ff0000"/>
<rect x="739.34" y="674.90" width="6.0" height="6.0" fill="#ff0000"/>
<rect x="754.36" y="672.90" width="6.0" height="6.0" fill="#ff0000"/>
<rect x="769.38" y="675.90" width="6.0" height="6.0" fill="#ff0000"/>
<path d="M487.00 739.95V745.95M484.00 739.95H490.00M484.00 745.95H490.00M502.02 703.92V711.92M499.02 703.92H505.02M499.02 711.92H505.02M517.04 697.41V702.42M514.04 697.41H520.04M514.04 702.42H520.04M532.06 701.42V706.42M529.06 701.42H535.06M529.06 706.42H535.06M547.08 702.42V707.42M544.08 702.42H550.08M544.08 707.42H550.08M562.10 698.41V703.42M559.10 698.41H565.10M559.10 703.42H565.10M577.12 692.41V697.41M574.12 692.41H580.12M574.12 697.41H580.12M592.14 690.41V695.41M589.14 690.41H595.14M589.14 695.41H595.14M607.16 689.81V694.81M604.16 689.81H610.16M604.16 694.81H610.16M622.18 689.41V694.41M619.18 689.41H625.18M619.18 694.41H625.18M637.20 687.41V692.41M634.20 687.41H640.20M634.20 692.41H640.20M652.22 685.40V690.41M649.22 685.40H655.22M649.22 690.41H655.22M667.24 679.90V685.90M664.24 679.90H670.24M664.24 685.90H670.24M682.26 678.40V685.40M679.26 678.40H685.26M679.26 685.40H685.26M697.28 677.90V691.91M694.28 677.90H700.28M694.28 691.91H700.28M712.30 675.50V683.50M709.30 675.50H715.30M709.30 683.50H715.30M727.32 675.50V683.50M724.32 675.50H730.32M724.32 683.50H730.32M742.34 673.89V681.90M739.34 673.89H745.34M739.34 681.90H745.34M757.36 668.89V676.90M754.36 668.89H760.36M754.36 676.90H760.36M772.38 676.90V684.90M769.38 676.90H775.38M769.38 684.90H775.38" stroke="#00ff00" stroke-width="2.0" fill="none"/>
<polyline points="487.00,742.95 502.02,707.92 517.04,699.91 532.06,703.92 547.08,704.92 562.10,700.92 577.12,694.91 592.14,692.91 607.16,692.31 622.18,691.91 637.20,689.91 652.22,687.91 667.24,682.90 682.26,681.90 697.28,684.90 712.30,679.50 727.32,679.50 742.34,677.90 757.36,672.89 772.38,680.90" stroke="#00ff00" stroke-width="3.9" fill="none" stroke-linejoin="round"/>
<path d="M487.00 738.57L491.38 742.95L487.00 747.32L482.62 742.95Z" fill="#00ff00"/>
<path d="M502.02 703.55L506.39 707.92L502.02 712.30L497.64 707.92Z" fill="#00ff00"/>
<path d="M517.04 695.54L521.41 699.91L517.04 704.29L512.66 699.91Z" fill="#00ff00"/>
<path d="M532.06 699.54L536.43 703.92L532.06 708.29L527.68 703.92Z" fill="#00ff00"/>
<path d="M547.08 700.54L551.46 704.92L547.08 709.29L542.71 704.92Z" fill="#00ff00"/>
<path d="M562.10 696.54L566.48 700.92L562.10 705.29L557.73 700.92Z" fill="#00ff00"/>
<path d="M577.12 690.54L581.50 694.91L577.12 699.29L572.75 694.91Z" fill="#00ff00"/>
<path d="M592.14 688.53L596.51 692.91L592.14 697.28L587.76 692.91Z" fill="#00ff00"/>
<path d="M607.16 687.93L611.53 692.31L607.16 696.68L602.78 692.31Z" fill="#00ff00"/>
<path d="M622.18 687.53L626.56 691.91L622.18 696.28L617.81 691.91Z" fill="#00ff00"/>
<path d="M637.20 685.53L641.58 689.91L637.20 694.28L632.83 689.91Z" fill="#00ff00"/>
<path d="M652.22 683.53L656.60 687.91L652.22 692.28L647.85 687.91Z" fill="#00ff00"/>
<path d="M667.24 678.53L671.62 682.90L667.24 687.28L662.87 682.90Z" fill="#00ff00"/>
<path d="M682.26 677.53L686.63 681.90L682.26 686.28L677.88 681.90Z" fill="#00ff00"/>
<path d="M697.28 680.53L701.65 684.90L697.28 689.28L692.90 684.90Z" fill="#00ff00"/>
<path d="M712.30 675.12L716.67 679.50L712.30 683.87L707.92 679.50Z" fill="#00ff00"/>
<path d="M727.32 675.12L731.69 679.50L727.32 683.87L722.94 679.50Z" fill="#00ff00"/>
<path d="M742.34 673.52L746.72 677.90L742.34 682.27L737.97 677.90Z" fill="#00ff00"/>
<path d="M757.36 668.52L761.74 672.89L757.36 677.27L752.99 672.89Z" fill="#00ff00"/>
<path d="M772.38 676.52L776.75 680.90L772.38 685.27L768.00 680.90Z" fill="#00ff00"/>
<path d="M266.5 735.10H290.5" stroke="#ff0000" stroke-width="2.4"/>
<rect x="275.00" y="731.60" width="7" height="7" fill="#ff0000"/>
<text x="307.8" y="745.40" font-size="25" text-anchor="start" font-weight="bold">Control</text>
<path d="M266.5 759.10H290.5" stroke="#0000ff" stroke-width="2.4"/>
<circle cx="278.50" cy="759.10" r="3.5" fill="#0000ff"/>
<text x="307.8" y="769.40" font-size="25" text-anchor="start" font-weight="bold">Low Dose</text>
<path d="M266.5 783.10H290.5" stroke="#00ff00" stroke-width="2.4"/>
<path d="M278.50 778.73L282.88 783.10L278.50 787.48L274.12 783.10Z" fill="#00ff00"/>
<text x="307.8" y="793.40" font-size="25" text-anchor="start" font-weight="bold">High Dose</text>
<text x="325.96" y="867.50" font-size="25" text-anchor="start" font-weight="bold">Weeks (post weaning)</text>
<text transform="translate(37.70 750.00) rotate(-90)" font-size="25" font-weight="bold">Female</text>
<text transform="translate(69.00 787.26) rotate(-90)" font-size="25" font-weight="bold">Mass (grams)</text>
<path d="M534.10 678.10L534.10 668.70M530.03 675.75L538.17 671.05M530.03 671.05L538.17 675.75" stroke="#000" stroke-width="1.8" stroke-linecap="round"/>
<circle cx="534.1" cy="673.4" r="1.6" fill="#000"/>
<path d="M534.10 690.60L534.10 681.20M530.03 688.25L538.17 683.55M530.03 683.55L538.17 688.25" stroke="#000" stroke-width="1.8" stroke-linecap="round"/>
<circle cx="534.1" cy="685.9" r="1.6" fill="#000"/>
<path d="M548.80 688.20L548.80 678.80M544.73 685.85L552.87 681.15M544.73 681.15L552.87 685.85" stroke="#000" stroke-width="1.8" stroke-linecap="round"/>
<circle cx="548.8" cy="683.5" r="1.6" fill="#000"/>
<path d="M563.10 687.00L563.10 677.60M559.03 684.65L567.17 679.95M559.03 679.95L567.17 684.65" stroke="#000" stroke-width="1.8" stroke-linecap="round"/>
<circle cx="563.1" cy="682.3" r="1.6" fill="#000"/>
<path d="M608.10 669.10L608.10 659.70M604.03 666.75L612.17 662.05M604.03 662.05L612.17 666.75" stroke="#000" stroke-width="1.8" stroke-linecap="round"/>
<circle cx="608.1" cy="664.4" r="1.6" fill="#000"/>
<path d="M608.10 681.60L608.10 672.20M604.03 679.25L612.17 674.55M604.03 674.55L612.17 679.25" stroke="#000" stroke-width="1.8" stroke-linecap="round"/>
<circle cx="608.1" cy="676.9" r="1.6" fill="#000"/>
</svg>
</body></html>
